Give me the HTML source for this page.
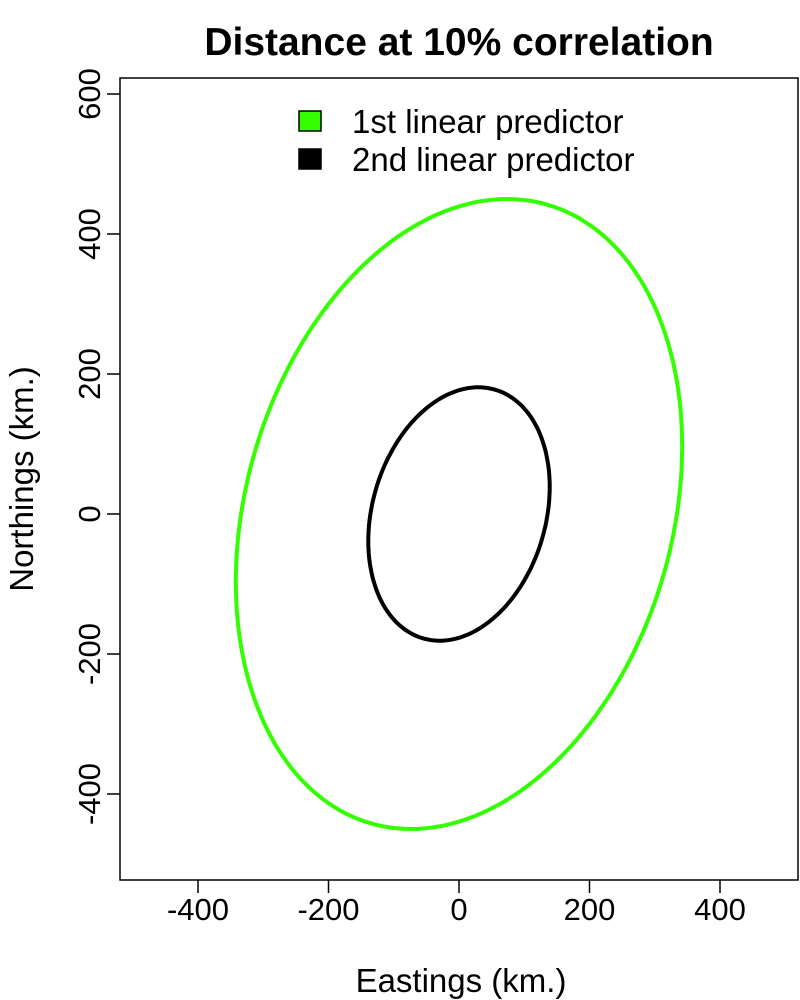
<!DOCTYPE html>
<html><head><meta charset="utf-8"><style>
html,body{margin:0;padding:0;background:#fff}
svg{display:block;font-family:"Liberation Sans",Arial,sans-serif}
</style></head><body>
<svg id="c" width="800" height="1000">
<text x="459" y="55" text-anchor="middle" font-size="39" font-weight="bold">Distance at 10% correlation</text>
<rect x="120" y="78" width="678" height="802" fill="none" stroke="#000" stroke-width="1.5"/>
<text x="461" y="992" text-anchor="middle" font-size="33">Eastings (km.)</text>
<text transform="translate(33,479) rotate(-90)" text-anchor="middle" font-size="33">Northings (km.)</text>
<g id="xt"></g><g id="yt"></g><g id="ell"></g>
<g>
<rect x="299" y="111" width="22" height="20" fill="#33ff00" stroke="#000" stroke-width="1.5"/>
<text x="352" y="133" font-size="33">1st linear predictor</text>
<rect x="299" y="149" width="22" height="20" fill="#000" stroke="#000" stroke-width="1.5"/>
<text x="352" y="171" font-size="33">2nd linear predictor</text>
</g>
</svg>
<script>
const xTicks=[-400,-200,0,200,400];
const yTicks=[-400,-200,0,200,400,600];
const seriesNames=["1st linear predictor","2nd linear predictor"];
const seriesColors=["#33ff00","#000000"];
const xMax=[342,139];       // max easting of each ellipse
const yAtXMax=[95,37];      // northing at that point
const yMax=[450,181];       // max northing
const xAtYMax=[75,31];      // easting at that point
const sx=v=>459+v*0.6525, sy=v=>514-v*0.7;
const NS="http://www.w3.org/2000/svg";
const mk=(t,a,p)=>{const e=document.createElementNS(NS,t);for(const k in a)e.setAttribute(k,a[k]);p.appendChild(e);return e;};
const xt=document.getElementById('xt'),yt=document.getElementById('yt'),eg=document.getElementById('ell');
xTicks.forEach(v=>{
 const l=mk('line',{x1:sx(v),x2:sx(v),y1:880,y2:893,stroke:'#000','stroke-width':1.5},xt);
 
 
 const t=mk('text',{x:sx(v),y:920,'text-anchor':'middle','font-size':31},xt);t.textContent=v;
 
 
});
yTicks.forEach(v=>{
 const l=mk('line',{x1:107,x2:120,y1:sy(v),y2:sy(v),stroke:'#000','stroke-width':1.5},yt);
 
 
 const t=mk('text',{transform:`translate(100,${sy(v)}) rotate(-90)`,'text-anchor':'middle','font-size':31},yt);t.textContent=v;
 
 
});
seriesNames.forEach((n,i)=>{
 const A=xMax[i],B=yMax[i];
 const c=Math.min(1,((xAtYMax[i]/A)+(yAtXMax[i]/B))/2), ph=Math.acos(c);
 let d='';
 for(let k=0;k<=200;k++){const t=k/200*2*Math.PI;
  d+=(k?'L':'M')+sx(A*Math.cos(t)).toFixed(1)+','+sy(B*Math.cos(t-ph)).toFixed(1);}
 const p=mk('path',{d:d+'Z',fill:'none',stroke:seriesColors[i],'stroke-width':4},eg);
 
 
});
</script>
</body></html>
